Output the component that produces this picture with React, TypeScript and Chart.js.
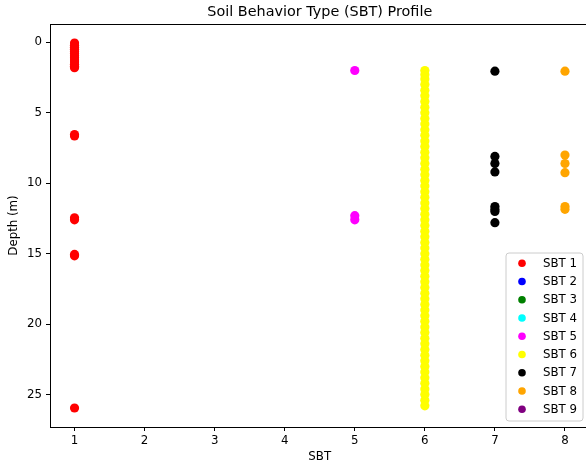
import React, { useEffect, useRef } from "react";
import { Chart, registerables } from "chart.js";

Chart.register(...registerables);

const TITLE = "Soil Behavior Type (SBT) Profile";
const X_LABEL = "SBT";
const Y_LABEL = "Depth (m)";
const X_TICKS = [1, 2, 3, 4, 5, 6, 7, 8];
const Y_TICKS = [0, 5, 10, 15, 20, 25];

const SBT_LABELS = ["SBT 1", "SBT 2", "SBT 3", "SBT 4", "SBT 5", "SBT 6", "SBT 7", "SBT 8", "SBT 9"];
const SBT_VALUES = [1, 2, 3, 4, 5, 6, 7, 8, 9];
const SBT_COLORS = ["#ff0000", "#0000ff", "#008000", "#00ffff", "#ff00ff", "#ffff00", "#000000", "#ffa500", "#800080"];

// depths (m) per SBT class
const DEPTH_SBT1 = [0.05, 0.2, 0.35, 0.5, 0.65, 0.8, 0.95, 1.1, 1.25, 1.4, 1.55, 1.7, 1.8, 6.55, 6.65, 12.45, 12.6, 15.05, 15.15, 25.95];
const DEPTH_SBT2: number[] = [];
const DEPTH_SBT3: number[] = [];
const DEPTH_SBT4: number[] = [];
const DEPTH_SBT5 = [2.0, 12.3, 12.6];
const DEPTH_SBT6 = [
  2.0, 2.3, 2.6, 3.0, 3.4, 3.8, 4.2, 4.6, 5.0, 5.4, 5.8, 6.2, 6.6, 7.0, 7.4, 7.8, 8.2, 8.6, 9.0, 9.4,
  9.8, 10.2, 10.6, 11.0, 11.4, 11.8, 12.2, 12.6, 13.0, 13.4, 13.8, 14.2, 14.6, 15.0, 15.4, 15.8, 16.2,
  16.6, 17.0, 17.4, 17.8, 18.2, 18.6, 19.0, 19.4, 19.8, 20.2, 20.6, 21.0, 21.4, 21.8, 22.2, 22.6, 23.0,
  23.4, 23.8, 24.2, 24.6, 25.0, 25.4, 25.8,
];
const DEPTH_SBT7 = [2.05, 8.1, 8.6, 9.2, 11.65, 11.85, 12.0, 12.8];
const DEPTH_SBT8 = [2.05, 8.0, 8.6, 9.25, 11.65, 11.85];
const DEPTH_SBT9: number[] = [];

const DEPTHS = [DEPTH_SBT1, DEPTH_SBT2, DEPTH_SBT3, DEPTH_SBT4, DEPTH_SBT5, DEPTH_SBT6, DEPTH_SBT7, DEPTH_SBT8, DEPTH_SBT9];

const FONT = "'DejaVu Sans', sans-serif";

export default function App() {
  const ref = useRef<HTMLCanvasElement | null>(null);

  useEffect(() => {
    document.body.style.margin = "0";
    const canvas = ref.current;
    if (!canvas) return;

    const datasets = SBT_LABELS.map((label, i) => ({
      label,
      data: DEPTHS[i].map((d) => ({ x: SBT_VALUES[i], y: d })),
      backgroundColor: SBT_COLORS[i],
      borderColor: SBT_COLORS[i],
      borderWidth: 0,
      pointRadius: 4.6,
      pointHoverRadius: 4.6,
    }));

    const deco = {
      id: "deco",
      afterDraw(chart: any) {
        const ctx = chart.ctx;
        const a = chart.chartArea;
        const xs = chart.scales.x;
        ctx.save();
        // spines
        ctx.strokeStyle = "#000";
        ctx.lineWidth = 1;
        ctx.beginPath();
        ctx.moveTo(Math.round(a.left) + 0.5, a.top);
        ctx.lineTo(Math.round(a.left) + 0.5, a.bottom);
        ctx.moveTo(a.left, Math.round(a.top) + 0.5);
        ctx.lineTo(a.right, Math.round(a.top) + 0.5);
        ctx.moveTo(a.left, Math.round(a.bottom) + 0.5);
        ctx.lineTo(a.right, Math.round(a.bottom) + 0.5);
        ctx.stroke();

        const cx = xs.getPixelForValue(4.5);
        // title
        ctx.fillStyle = "#000";
        ctx.font = `14.4px ${FONT}`;
        ctx.textAlign = "center";
        ctx.textBaseline = "middle";
        ctx.fillText(TITLE, cx, 12);
        // x label
        ctx.font = `11.8px ${FONT}`;
        ctx.fillText(X_LABEL, cx, 457);
        // y label
        ctx.save();
        ctx.translate(13.5, (a.top + a.bottom) / 2);
        ctx.rotate(-Math.PI / 2);
        ctx.fillText(Y_LABEL, 0, 0);
        ctx.restore();

        // legend
        const lx = 506, ly = 253, lw = 77, lh = 168, r = 3;
        ctx.beginPath();
        ctx.moveTo(lx + r, ly);
        ctx.lineTo(lx + lw - r, ly);
        ctx.quadraticCurveTo(lx + lw, ly, lx + lw, ly + r);
        ctx.lineTo(lx + lw, ly + lh - r);
        ctx.quadraticCurveTo(lx + lw, ly + lh, lx + lw - r, ly + lh);
        ctx.lineTo(lx + r, ly + lh);
        ctx.quadraticCurveTo(lx, ly + lh, lx, ly + lh - r);
        ctx.lineTo(lx, ly + r);
        ctx.quadraticCurveTo(lx, ly, lx + r, ly);
        ctx.closePath();
        ctx.fillStyle = "rgba(255,255,255,0.8)";
        ctx.fill();
        ctx.strokeStyle = "#cccccc";
        ctx.lineWidth = 1;
        ctx.stroke();

        ctx.textAlign = "left";
        ctx.textBaseline = "middle";
        ctx.font = `11.8px ${FONT}`;
        SBT_LABELS.forEach((lab, i) => {
          const y = 263.3 + i * 18.25;
          ctx.beginPath();
          ctx.arc(522, y, 3.8, 0, Math.PI * 2);
          ctx.fillStyle = SBT_COLORS[i];
          ctx.fill();
          ctx.fillStyle = "#000";
          ctx.fillText(lab, 543, y + 0.5);
        });
        ctx.restore();
      },
    };

    const chart = new Chart(canvas, {
      type: "scatter",
      data: { datasets },
      options: {
        animation: false,
        responsive: false,
        events: [],
        layout: { autoPadding: false, padding: { left: 0, right: 0, top: 24, bottom: 0 } },
        plugins: { legend: { display: false }, title: { display: false }, tooltip: { enabled: false } },
        scales: {
          x: {
            type: "linear",
            min: 0.65,
            max: 8.3,
            afterBuildTicks: (s: any) => {
              s.ticks = X_TICKS.map((v) => ({ value: v }));
            },
            afterFit: (s: any) => {
              s.height = 42;
              s.paddingLeft = 0;
              s.paddingRight = 0;
            },
            grid: { drawOnChartArea: false, drawTicks: true, tickLength: 4, color: "#000", lineWidth: 1 },
            border: { display: false },
            ticks: { color: "#000", font: { family: FONT, size: 11.8 }, padding: 3, maxRotation: 0 },
          },
          y: {
            type: "linear",
            reverse: true,
            min: -1.3,
            max: 27.3,
            afterBuildTicks: (s: any) => {
              s.ticks = Y_TICKS.map((v) => ({ value: v }));
            },
            afterFit: (s: any) => {
              s.width = 50;
              s.paddingTop = 0;
              s.paddingBottom = 0;
            },
            grid: { drawOnChartArea: false, drawTicks: true, tickLength: 4, color: "#000", lineWidth: 1 },
            border: { display: false },
            ticks: { color: "#000", font: { family: FONT, size: 11.8 }, padding: 4 },
          },
        },
      },
      plugins: [deco],
    } as any);

    return () => chart.destroy();
  }, []);

  return (
    <div style={{ position: "fixed", left: 0, top: 0, width: 586, height: 469, background: "#fff" }}>
      <canvas ref={ref} width={586} height={469} style={{ width: 586, height: 469 }} />
    </div>
  );
}
